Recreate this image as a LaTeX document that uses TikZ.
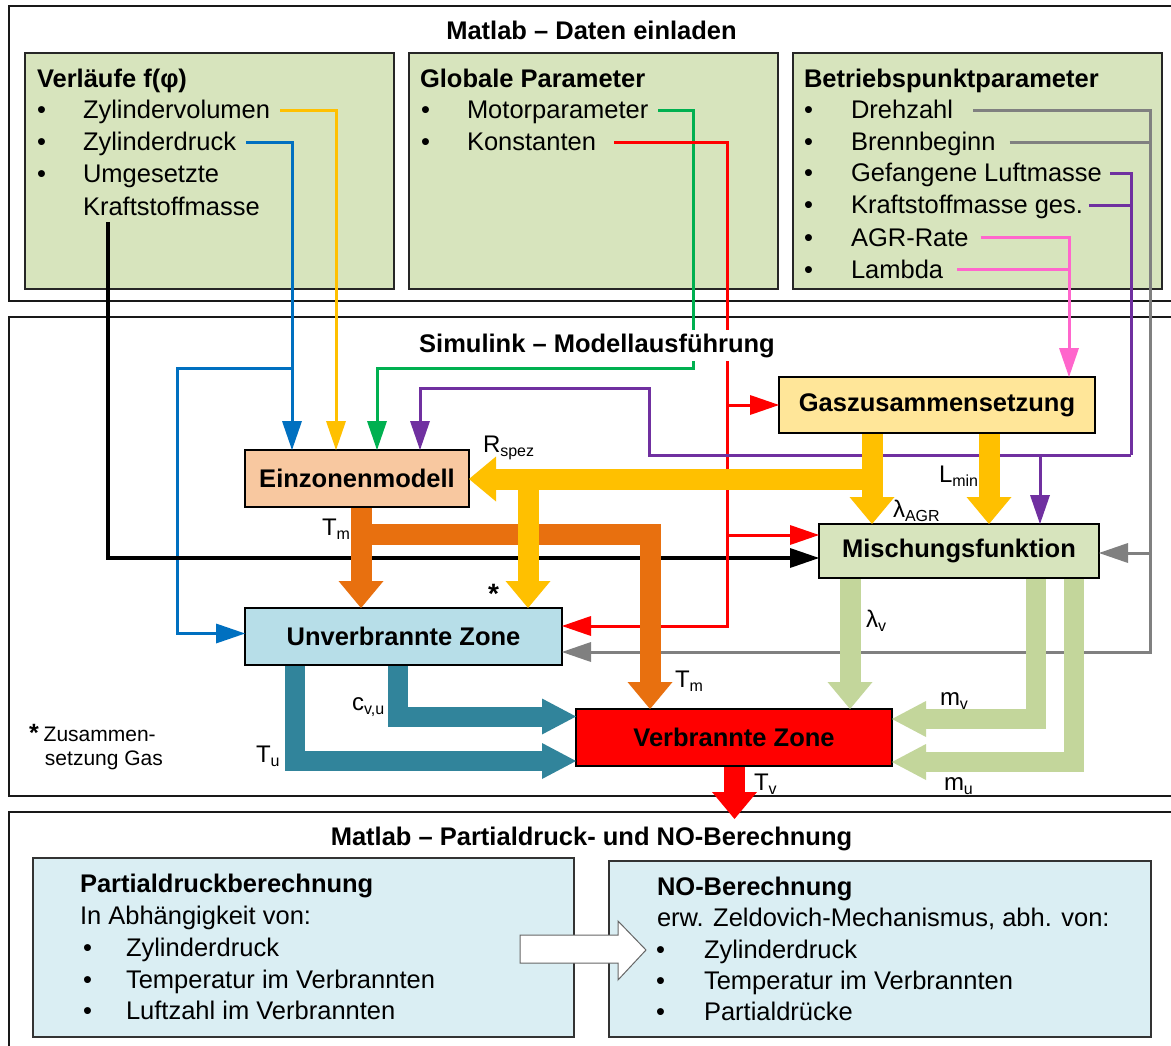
\documentclass[tikz,border=0pt]{standalone}
\usepackage{fontspec}
\setmainfont{Liberation Sans}
\usetikzlibrary{arrows.meta,calc}
\definecolor{boxgreen}{HTML}{D7E4BD}
\definecolor{einfill}{HTML}{F8C8A0}
\definecolor{gasfill}{HTML}{FFE699}
\definecolor{unvfill}{HTML}{B7DEE8}
\definecolor{botfill}{HTML}{DAEEF3}
\definecolor{cyellow}{HTML}{FFC000}
\definecolor{corange}{HTML}{E8700F}
\definecolor{cteal}{HTML}{31849B}
\definecolor{clgreen}{HTML}{C3D69B}
\definecolor{cgreen}{HTML}{00B050}
\definecolor{cblue}{HTML}{0070C0}
\definecolor{cpurple}{HTML}{7030A0}
\definecolor{cpink}{HTML}{FF66CC}
\definecolor{cgray}{HTML}{808080}
\definecolor{cred}{HTML}{FF0000}
\newcommand\txtsize{\fontsize{25.5}{30}\selectfont}
\newcommand\lblsize{\fontsize{24}{28}\selectfont}
\newcommand\sbs[1]{\raisebox{-4pt}{\fontsize{16}{16}\selectfont #1}}
\newcommand\bitem[5]{\node[txt] (#1b) at (#2,#4) {\textbullet}; \node[txt] (#1) at (#3,#4) {#5};}
\begin{document}
\begin{tikzpicture}[x=1pt,y=-1pt,
  txt/.style={font=\txtsize, inner sep=0pt, outer sep=0pt, anchor=base west},
  ttl/.style={font=\txtsize\bfseries, inner sep=0pt, outer sep=0pt, anchor=base},
  lbl/.style={font=\lblsize, inner sep=0pt, outer sep=0pt, anchor=base west},
  frame/.style={draw=black!90, line width=2pt},
  dbox/.style={draw=black!85, line width=1.6pt, fill=boxgreen, inner sep=0pt, outer sep=0pt},
  blk/.style={draw=black, line width=2pt, font=\txtsize\bfseries, inner sep=0pt, outer sep=0pt},
  bbox/.style={draw=black!80, line width=1.6pt, fill=botfill, inner sep=0pt, outer sep=0pt},
  conn/.style={line width=3pt},
  con/.style={line width=3pt, -{Triangle[length=29pt,width=20pt,line width=0pt]}},
  fatA/.style={line width=21pt, line join=miter, -{Triangle[length=27pt,width=45pt,line width=0pt]}},
  fatB/.style={line width=20pt, line join=miter, -{Triangle[length=34pt,width=36pt,line width=0pt]}}
]
\useasboundingbox (0,0) rectangle (1171,1046);
\clip (0,0) rectangle (1171,1046);
\fill[white] (0,0) rectangle (1171,1046);

% frames
\draw[frame] (9,6) rectangle (1185,301);
\draw[frame] (9,317) rectangle (1185,796);
\draw[frame] (9,812) rectangle (1185,1060);

\node[ttl] (t1) at (591.5,40) {Matlab – Daten einladen};
\node[ttl] (t3) at (591.5,845) {Matlab – Partialdruck- und NO-Berechnung};

% top boxes
\node[dbox, minimum width=369pt, minimum height=236pt] (vb) at (209.5,171) {};
\node[dbox, minimum width=369pt, minimum height=236pt] (gp) at (593.5,171) {};
\node[dbox, minimum width=369pt, minimum height=236pt] (bp) at (977.5,171) {};

\node[txt, font=\txtsize\bfseries] (vbt) at (37,88) {Verläufe f(φ)};
\bitem{zv}{37}{83}{119}{Zylindervolumen}
\bitem{zd}{37}{83}{151}{Zylinderdruck}
\bitem{um}{37}{83}{183}{Umgesetzte}
\node[txt] (kr) at (83,215) {Kraftstoffmasse};

\node[txt, font=\txtsize\bfseries] (gpt) at (420,88) {Globale Parameter};
\bitem{mp}{421}{467}{119}{Motorparameter}
\bitem{ko}{421}{467}{151}{Konstanten}

\node[txt, font=\txtsize\bfseries] (bpt) at (804,88) {Betriebspunktparameter};
\bitem{dz}{804}{851}{119}{Drehzahl}
\bitem{bb}{804}{851}{151}{Brennbeginn}
\bitem{gl}{804}{851}{182}{Gefangene Luftmasse}
\bitem{kg}{804}{851}{214}{Kraftstoffmasse ges.}
\bitem{agr}{804}{851}{246}{AGR-Rate}
\bitem{lam}{804}{851}{278}{Lambda}

% middle blocks
\node[blk, fill=einfill, minimum width=224pt, minimum height=57pt] (ein) at (357,478.5) {Einzonenmodell};
\node[blk, fill=gasfill, minimum width=316pt, minimum height=56pt] (gas) at (937,405) {Gaszusammensetzung};
\node[blk, fill=boxgreen, minimum width=280pt, minimum height=54pt] (mis) at (959,551) {Mischungsfunktion};
\node[blk, fill=unvfill, minimum width=317pt, minimum height=57pt] (unv) at (403.5,636.5) {Unverbrannte Zone};
\node[blk, fill=cred, minimum width=316pt, minimum height=57pt] (ver) at (734,737.5) {Verbrannte Zone};

% corner coordinates
\coordinate (gcorner) at ($(gp.south west)+(284,79)$);
\coordinate (pcorner) at ($(gas.south east)+(36,22)$);
\coordinate (rcorner) at ($(unv.east)+(165,-10.5)$);
\coordinate (graycorner) at ($(unv.east)+(588,15.5)$);

% thin connectors
\draw[con, cyellow] ($(zv.base east)+(10,-8.5)$) -| ($(ein.north west)+(91,0)$);
\draw[con, cblue] ($(zd.base east)+(10,-8.5)$) -| ($(ein.north west)+(47,0)$);
\draw[con, cblue] ($(ein.north west)+(47,-82)$) -- ++(-115,0) |- ($(unv.west)+(0,-3)$);
\draw[con, black, line width=3.5pt] ($(kr.base west)+(25,7)$) |- ($(mis.west)+(0,7)$);
\draw[con, cgreen] ($(mp.base east)+(10,-8.5)$) -| (gcorner) -| ($(ein.north west)+(132,0)$);
\draw[con, cred] ($(ko.base east)+(18,-8.5)$) -| (rcorner) -- ($(unv.east)+(0,-10.5)$);
\draw[con, cred] ($(gas.west)+(-52,0)$) -- (gas.west);
\draw[con, cred] ($(mis.west)+(-92,-16)$) -- ($(mis.west)+(0,-16)$);
\draw[conn, cgray] ($(dz.base east)+(20,-8.5)$) -| (graycorner);
\draw[con, cgray] ($(bb.base east)+(14,-8.5)$) -| (graycorner) -- ($(unv.east)+(0,15.5)$);
\draw[con, cgray] ($(mis.east)+(51,2)$) -- ($(mis.east)+(0,2)$);
\draw[conn, cpurple] ($(gl.base east)+(8,-8.5)$) -| (pcorner);
\draw[conn, cpurple] ($(kg.base east)+(6,-8.5)$) -| (pcorner);
\draw[con, cpurple] (pcorner) -- ($(mis.north west)+(-170,-69)$) |- ($(ein.north west)+(175,-62)$) -- ($(ein.north west)+(175,0)$);
\draw[con, cpurple] ($(mis.north west)+(221,-69)$) -- ($(mis.north west)+(221,0)$);
\draw[conn, cpink] ($(agr.base east)+(12,-8.5)$) -| ($(gas.north west)+(290,-40)$);
\draw[con, cpink] ($(lam.base east)+(14,-8.5)$) -| ($(gas.north west)+(290,0)$);

% middle title over the lines that pass it
\node[ttl, fill=white, inner xsep=3pt, inner ysep=4pt] (t2) at (597,352) {Simulink – Modellausführung};

% thick arrows
\draw[fatA, corange] ($(ein.south west)+(116,1)$) -- ($(unv.north west)+(116,0)$);
\draw[fatA, corange] ($(ein.south west)+(116,27)$) -| ($(ver.north west)+(74,0)$);
\draw[fatA, cyellow] ($(gas.south west)+(93,1)$) -- ($(mis.north west)+(53,0)$);
\draw[fatA, cyellow] ($(gas.south west)+(93,46)$) -- ($(ein.east)+(0,0.5)$);
\draw[fatA, cyellow] ($(unv.north west)+(283,-129)$) -- ($(unv.north west)+(283,0)$);
\draw[fatA, cyellow] ($(gas.south west)+(210,1)$) -- ($(mis.north west)+(170,0)$);
\draw[fatA, clgreen] ($(mis.south west)+(31,1)$) -- ($(ver.north west)+(274,0)$);
\draw[fatB, clgreen] ($(mis.south west)+(217,1)$) |- ($(ver.east)+(0,-18.5)$);
\draw[fatB, clgreen] ($(mis.south west)+(255,1)$) |- ($(ver.east)+(0,24.5)$);
\draw[fatB, cteal] ($(unv.south west)+(50,1)$) |- ($(ver.west)+(0,23.5)$);
\draw[fatB, cteal] ($(unv.south west)+(152.5,1)$) |- ($(ver.west)+(0,-21)$);
\draw[fatA, cred] ($(ver.south west)+(158.5,1)$) -- ++(0,52);

% labels
\node[lbl] (lrs) at (483,452) {R\sbs{spez}};
\node[lbl] (lagr) at (893,517) {λ\sbs{AGR}};
\node[lbl] (llm) at (939,482) {L\sbs{min}};
\node[lbl] (ltm1) at (322,535) {T\sbs{m}};
\node[lbl, font=\fontsize{28}{30}\selectfont\bfseries] (lstar) at (488,603) {*};
\node[lbl] (llv) at (866,627) {λ\sbs{v}};
\node[lbl] (ltm2) at (675,687) {T\sbs{m}};
\node[lbl] (lcv) at (352,710) {c\sbs{v,u}};
\node[lbl] (ltu) at (256,762) {T\sbs{u}};
\node[lbl] (lmv) at (940,705) {m\sbs{v}};
\node[lbl] (lmu) at (944,790) {m\sbs{u}};
\node[lbl] (ltv) at (754,790) {T\sbs{v}};
\node[lbl, font=\fontsize{21}{24}\selectfont] (note1) at (29,741) {{\fontsize{25}{25}\selectfont\bfseries *}\hspace{5pt}Zusammen-};
\node[lbl, font=\fontsize{21}{24}\selectfont] (note2) at (45,765) {setzung Gas};

% bottom boxes
\node[bbox, minimum width=541pt, minimum height=179pt] (pd) at (303.5,947.5) {};
\node[bbox, minimum width=542pt, minimum height=176pt] (no) at (880,949) {};

\node[txt, font=\txtsize\bfseries] (pdt) at (80,892) {Partialdruckberechnung};
\node[txt] (pda) at (80,924) {In Abhängigkeit von:};
\bitem{pz}{83}{126}{956}{Zylinderdruck}
\bitem{pt}{83}{126}{988}{Temperatur im Verbrannten}
\bitem{pl}{83}{126}{1019}{Luftzahl im Verbrannten}

\node[txt, font=\txtsize\bfseries] (not) at (657,895) {NO-Berechnung};
\node[txt] (noa) at (657,926) {erw. Zeldovich-Mechanismus, abh. von:};
\bitem{nz}{656}{704}{958}{Zylinderdruck}
\bitem{nt}{656}{704}{989}{Temperatur im Verbrannten}
\bitem{np}{656}{704}{1020}{Partialdrücke}

% white arrow between the bottom boxes
\coordinate (wa) at (pd.east);
\draw[fill=white, draw=black!60, line width=1pt, line join=miter]
  ($(wa)+(-54,-12.5)$) -- ($(wa)+(44,-12.5)$) -- ($(wa)+(44,-26.5)$) -- ($(wa)+(72,2.5)$)
  -- ($(wa)+(44,32.5)$) -- ($(wa)+(44,15.5)$) -- ($(wa)+(-54,15.5)$) -- cycle;
\end{tikzpicture}
\end{document}
